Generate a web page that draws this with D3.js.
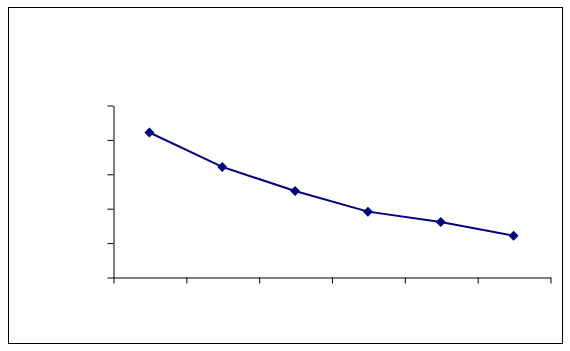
<!DOCTYPE html>
<html>
<head>
<meta charset="utf-8">
<script src="https://cdn.jsdelivr.net/npm/d3@7"></script>
<style>
  body { margin: 0; background: #fff; }
  svg { display: block; }
</style>
</head>
<body>
<svg id="chart" width="570" height="351"></svg>
<script>
// categories have no visible labels in the reference
var categories = ["1", "2", "3", "4", "5", "6"];
var values = [4.2, 3.2, 2.5, 1.9, 1.6, 1.2];
var yTicks = [0, 1, 2, 3, 4, 5];

var svg = d3.select("#chart");

// outer chart area frame
svg.append("rect")
    .attr("x", 8.5)
    .attr("y", 7.5)
    .attr("width", 554)
    .attr("height", 336)
    .attr("fill", "#fff")
    .attr("stroke", "#000")
    .attr("stroke-width", 1);

var plot = {left: 113, right: 550, top: 105, bottom: 277};

var x = d3.scaleLinear()
    .domain([0, categories.length])
    .range([plot.left, plot.right]);

var y = d3.scaleLinear()
    .domain([0, 5])
    .range([plot.bottom, plot.top]);

svg.append("g")
    .attr("transform", "translate(" + (plot.left + 0.5) + ",0.5)")
    .call(d3.axisLeft(y).tickValues(yTicks).tickSize(6).tickSizeOuter(0).tickFormat(""));

svg.append("g")
    .attr("transform", "translate(0.5," + (plot.bottom + 0.5) + ")")
    .call(d3.axisBottom(x).ticks(categories.length).tickSize(6).tickSizeOuter(0).tickFormat(""));

svg.selectAll(".domain, .tick line")
    .attr("stroke", "#000")
    .attr("stroke-width", 1);

var line = d3.line()
    .x(function (d, i) { return x(i + 0.5); })
    .y(function (d) { return y(d); });

svg.append("path")
    .datum(values)
    .attr("fill", "none")
    .attr("stroke", "#000080")
    .attr("stroke-width", 2)
    .attr("d", line);

// diamond markers
svg.append("g")
    .selectAll("path")
    .data(values)
    .enter()
    .append("path")
    .attr("d", d3.symbol().type(d3.symbolDiamond2).size(64))
    .attr("transform", function (d, i) { return "translate(" + x(i + 0.5) + "," + y(d) + ")"; })
    .attr("fill", "#000080");
</script>
</body>
</html>
